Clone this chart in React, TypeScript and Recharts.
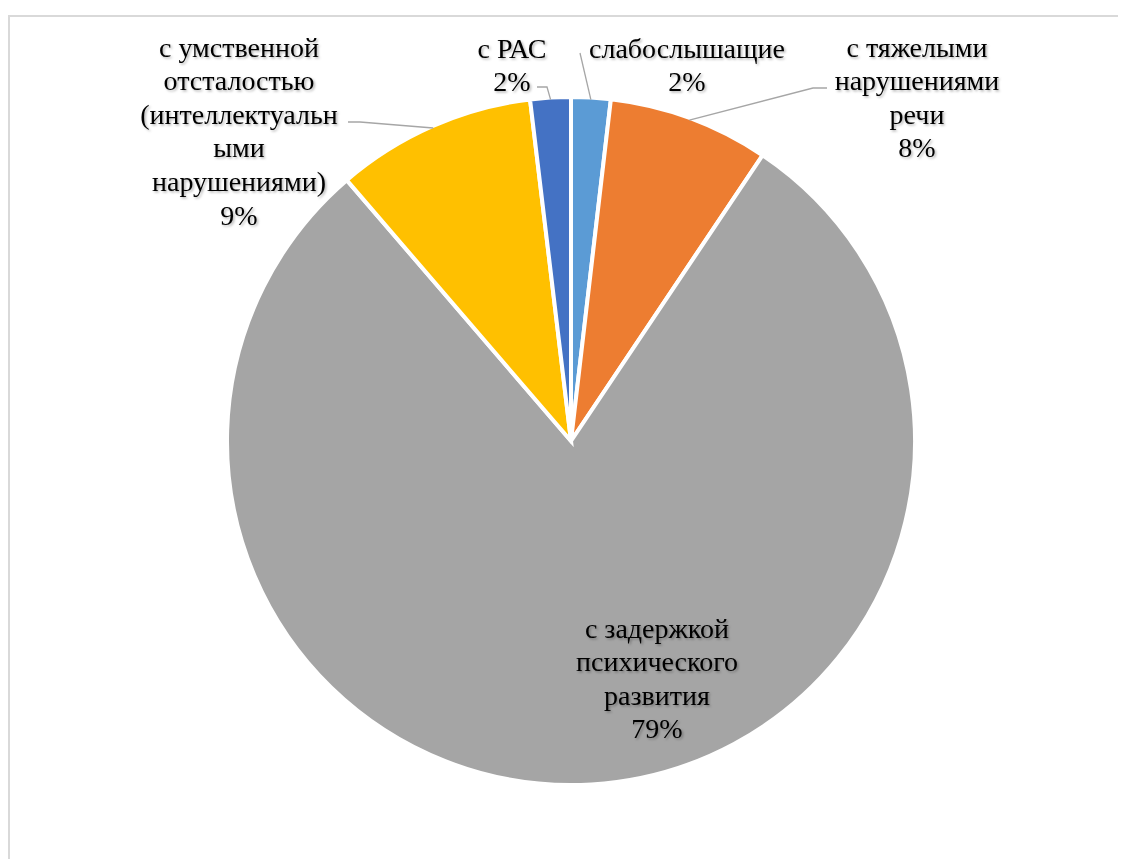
import React from "react";
import { PieChart, Pie, Cell } from "recharts";

// ---- data ----
const categories: string[] = [
  "слабослышащие",
  "с тяжелыми нарушениями речи",
  "с задержкой психического развития",
  "с умственной отсталостью (интеллектуальными нарушениями)",
  "с РАС",
];
const values: number[] = [1.85, 7.55, 79.3, 9.4, 1.9];
const labelLines: string[][] = [
  ["слабослышащие"],
  ["с тяжелыми", "нарушениями", "речи"],
  ["с задержкой", "психического", "развития"],
  ["с умственной", "отсталостью", "(интеллектуальн", "ыми", "нарушениями)"],
  ["с РАС"],
];

// ---- styles / layout ----
const colors = ["#5B9BD5", "#ED7D31", "#A5A5A5", "#FFC000", "#4472C4"];
const FONT = "'Liberation Serif', 'Times New Roman', serif";
const FONT_SIZE = 28;
const LINE_H = 33.6;
// label block centre x and first-line y, relative to the pie centre
const labelLayout = [
  { dx: 116, dy: -393, leader: [[9, -388]] },
  { dx: 346, dy: -394, leader: [[242, -353], [256, -353]] },
  { dx: 86, dy: 187, leader: [] as number[][] },
  { dx: -332, dy: -394, leader: [[-211, -319], [-223, -319]] },
  { dx: -59, dy: -393, leader: [[-24, -354], [-34, -354]] },
];

const data = categories.map((name, i) => ({ name, value: values[i] }));
const total = values.reduce((a, b) => a + b, 0);
const RAD = Math.PI / 180;

const renderLabel = (props: any) => {
  const { cx, cy, midAngle, outerRadius, index } = props;
  const lay = labelLayout[index];
  const sx = cx + (outerRadius - 2) * Math.cos(-midAngle * RAD);
  const sy = cy + (outerRadius - 2) * Math.sin(-midAngle * RAD);
  const pts = [[sx, sy], ...lay.leader.map(([x, y]) => [cx + x, cy + y])];
  const lines = [...labelLines[index], `${Math.round((values[index] / total) * 100)}%`];
  return (
    <g key={`lbl-${index}`}>
      {lay.leader.length > 0 && (
        <polyline
          points={pts.map((p) => p.join(",")).join(" ")}
          fill="none"
          stroke="#A6A6A6"
          strokeWidth={1.3}
        />
      )}
      <text
        x={cx + lay.dx}
        y={cy + lay.dy}
        textAnchor="middle"
        fontFamily={FONT}
        fontSize={FONT_SIZE}
        fill="#000"
        filter="url(#txtShadow)"
      >
        {lines.map((l, k) => (
          <tspan key={k} x={cx + lay.dx} y={cy + lay.dy + k * LINE_H} dominantBaseline="central">
            {l}
          </tspan>
        ))}
      </text>
    </g>
  );
};

export default function App() {
  return (
    <div style={{ position: "relative", width: 1118, height: 851, overflow: "hidden" }}>
      <style>{`body{overflow:hidden}`}</style>
      <div
        style={{
          position: "absolute",
          left: 0,
          top: 7,
          width: 1140,
          height: 900,
          border: "2px solid #D9D9D9",
          boxSizing: "border-box",
        }}
      />
      <PieChart
        width={1118}
        height={851}
        margin={{ top: 0, right: 0, bottom: 0, left: 0 }}
        style={{ position: "absolute", left: 0, top: 0 }}
      >
        <defs>
          <filter id="txtShadow" x="-10%" y="-10%" width="130%" height="130%">
            <feDropShadow dx="1.5" dy="1.5" stdDeviation="1.2" floodColor="#000" floodOpacity="0.3" />
          </filter>
        </defs>
        <Pie
          data={data}
          dataKey="value"
          nameKey="name"
          cx={563}
          cy={433}
          outerRadius={344}
          startAngle={90}
          endAngle={-270}
          stroke="#FFFFFF"
          strokeWidth={4}
          isAnimationActive={false}
          label={renderLabel}
          labelLine={false}
        >
          {data.map((d, i) => (
            <Cell key={d.name} fill={colors[i]} />
          ))}
        </Pie>
      </PieChart>
    </div>
  );
}
